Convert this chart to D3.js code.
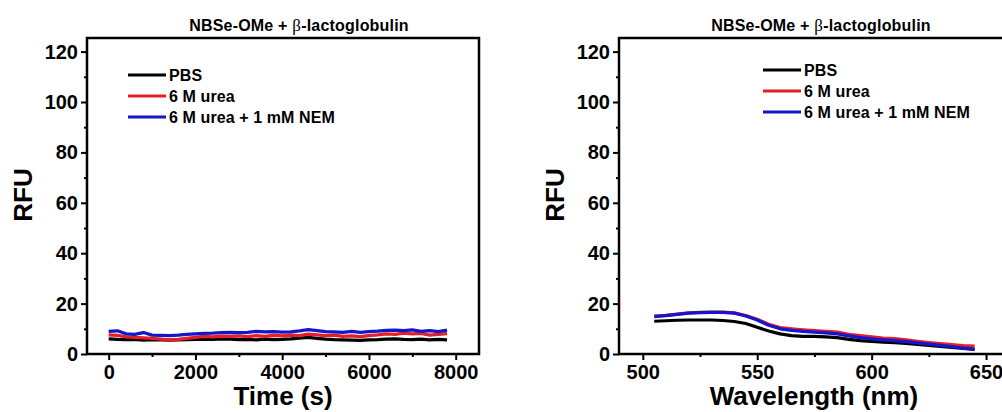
<!DOCTYPE html>
<html>
<head>
<meta charset="utf-8">
<script src="https://cdn.jsdelivr.net/npm/d3@7"></script>
<style>
  html, body { margin: 0; padding: 0; background: #fff; }
  svg { display: block; font-family: "Liberation Sans", Arial, sans-serif; font-weight: bold; }
</style>
</head>
<body>
<svg id="chart" width="1002" height="412"></svg>
<script>
// ---------- data ----------
const seriesNames = ["PBS", "6 M urea", "6 M urea + 1 mM NEM"];
const seriesColors = ["#000000", "#e41f26", "#1515cc"];
const titleMain = "NBSe-OMe + ";
const titleGreek = "β";
const titleRest = "-lactoglobulin";

// Left panel: time course
const timeS = [0,200,400,600,800,1000,1200,1400,1600,1800,2000,2200,2400,2600,2800,3000,3200,3400,3600,3800,
               4000,4200,4400,4600,4800,5000,5200,5400,5600,5800,6000,6200,6400,6600,6800,7000,7200,7400,7600,7800];
const timePBS = [6.0,5.8,5.7,5.8,5.5,5.7,5.6,5.5,5.6,5.7,5.8,5.9,5.8,6.0,5.9,5.7,5.8,5.6,5.9,5.7,
                 5.8,6.0,6.3,6.6,6.2,5.9,5.7,5.6,5.5,5.4,5.6,5.7,5.9,6.0,5.8,5.7,5.9,5.6,5.8,5.6];
const timeUrea = [7.6,7.4,6.8,6.6,6.4,6.2,5.9,5.5,5.8,6.2,6.6,7.0,6.8,7.1,7.0,7.2,6.9,7.3,7.0,7.4,
                  7.2,7.5,7.3,7.9,7.6,7.3,7.5,7.0,7.2,6.9,7.3,7.6,8.0,7.8,8.3,8.0,8.2,7.5,7.8,8.1];
const timeUreaNEM = [9.0,9.2,8.0,7.8,8.5,7.5,7.4,7.3,7.5,7.8,8.0,8.2,8.3,8.5,8.6,8.5,8.6,9.0,8.8,8.9,
                     8.7,8.8,9.2,9.7,9.3,8.9,8.8,8.6,9.0,8.6,8.9,9.1,9.4,9.5,9.3,9.6,9.0,9.3,8.9,9.5];

// Right panel: emission spectrum
const wavelength = [505,510,515,520,525,530,535,540,545,550,555,560,565,570,575,580,585,590,595,600,
                    605,610,615,620,625,630,635,640,645];
const specPBS = [13.0,13.2,13.4,13.5,13.5,13.5,13.3,12.9,12.1,10.6,9.1,8.0,7.3,7.0,7.0,6.8,6.5,5.8,5.3,5.0,
                 4.7,4.5,4.2,3.8,3.4,3.0,2.6,2.2,1.8];
const specUrea = [15.0,15.3,15.8,16.3,16.5,16.6,16.6,16.3,15.3,13.8,11.8,10.5,10.0,9.6,9.3,9.0,8.7,7.8,7.3,6.8,
                  6.3,6.1,5.6,5.0,4.5,4.1,3.7,3.3,3.1];
const specUreaNEM = [14.8,15.2,15.7,16.2,16.4,16.5,16.5,16.2,15.1,13.5,11.4,10.0,9.4,9.0,8.7,8.4,8.0,7.2,6.5,6.0,
                     5.6,5.3,4.9,4.4,3.9,3.4,2.9,2.3,1.9];

const yTicks = [0,20,40,60,80,100,120];
const timeTicks = [0,2000,4000,6000,8000];
const wlTicks = [500,550,600,650];

// ---------- drawing ----------
const svg = d3.select("#chart");
const fmt = d3.format("d");

function panel(cfg) {
  const g = svg.append("g");
  const x = d3.scaleLinear().domain(cfg.xDomain).range([cfg.left, cfg.right]);
  const y = d3.scaleLinear().domain([0, 125.4]).range([cfg.bottom, cfg.top]);

  const yAxis = d3.axisLeft(y).tickValues(yTicks).tickFormat(fmt).tickSize(6).tickSizeOuter(0).tickPadding(3);
  const gy = g.append("g").attr("transform", `translate(${cfg.left},0)`).call(yAxis);
  const yMinor = d3.axisLeft(y).tickValues(yTicks.slice(0,-1).map(v => v + 10)).tickSize(3).tickFormat("").tickSizeOuter(0);
  const gym = g.append("g").attr("transform", `translate(${cfg.left},0)`).call(yMinor);

  const xAxis = d3.axisBottom(x).tickValues(cfg.xTicks).tickFormat(fmt).tickSize(6).tickSizeOuter(0).tickPadding(5);
  const gx = g.append("g").attr("transform", `translate(0,${cfg.bottom})`).call(xAxis);
  const xMinor = d3.axisBottom(x).tickValues(cfg.xMinor).tickSize(3).tickFormat("").tickSizeOuter(0);
  const gxm = g.append("g").attr("transform", `translate(0,${cfg.bottom})`).call(xMinor);

  [gy, gym, gx, gxm].forEach(a => {
    a.select(".domain").remove();
    a.selectAll("line").attr("stroke", "#000").attr("stroke-width", 2);
    a.selectAll("text").attr("font-size", 20).attr("font-weight", "bold")
      .attr("font-family", "'Liberation Sans', Arial, sans-serif").attr("fill", "#000");
  });

  g.append("rect")
    .attr("x", cfg.left).attr("y", cfg.top)
    .attr("width", cfg.right - cfg.left).attr("height", cfg.bottom - cfg.top)
    .attr("fill", "none").attr("stroke", "#000").attr("stroke-width", 2.5);

  const line = d3.line().x(d => x(d[0])).y(d => y(d[1]));
  cfg.series.forEach((vals, i) => {
    g.append("path")
      .datum(cfg.xs.map((xv, k) => [xv, vals[k]]))
      .attr("d", line)
      .attr("fill", "none")
      .attr("stroke", seriesColors[i])
      .attr("stroke-width", 3.2)
      .attr("stroke-linejoin", "round");
  });

  const t = g.append("text")
    .attr("x", cfg.titleX).attr("y", 31)
    .attr("text-anchor", "middle").attr("font-size", 16).attr("font-weight", "bold")
    .attr("letter-spacing", 0.2);
  t.append("tspan").text(titleMain);
  t.append("tspan").attr("font-family", "'Liberation Serif', 'Times New Roman', serif").attr("font-weight", "normal").attr("font-size", 17).text(titleGreek);
  t.append("tspan").text(titleRest);

  g.append("text")
    .attr("x", cfg.xTitleX).attr("y", 405)
    .attr("text-anchor", "middle").attr("font-size", 26).attr("font-weight", "bold")
    .text(cfg.xTitle);
  g.append("text")
    .attr("transform", `translate(${cfg.yTitleX},195) rotate(-90)`)
    .attr("text-anchor", "middle").attr("font-size", 26).attr("font-weight", "bold")
    .text("RFU");

  seriesNames.forEach((name, i) => {
    const ly = cfg.legY + i * cfg.legStep;
    g.append("line")
      .attr("x1", cfg.legX).attr("x2", cfg.legX + 38)
      .attr("y1", ly).attr("y2", ly)
      .attr("stroke", seriesColors[i]).attr("stroke-width", 3);
    g.append("text")
      .attr("x", cfg.legX + 41).attr("y", ly + 5.5)
      .attr("font-size", 16).attr("font-weight", "bold").attr("letter-spacing", 0.1)
      .text(name);
  });
}

panel({
  left: 87, right: 479, top: 38, bottom: 354,
  xDomain: [-500, 8537], xTicks: timeTicks, xMinor: [1000,3000,5000,7000],
  xs: timeS, series: [timePBS, timeUrea, timeUreaNEM],
  titleX: 299, xTitle: "Time (s)", xTitleX: 283, yTitleX: 32,
  legX: 128, legY: 75, legStep: 21
});

panel({
  left: 619, right: 1011, top: 38, bottom: 354,
  xDomain: [489.6, 660.9], xTicks: wlTicks, xMinor: [525,575,625],
  xs: wavelength, series: [specPBS, specUrea, specUreaNEM],
  titleX: 821, xTitle: "Wavelength (nm)", xTitleX: 814, yTitleX: 564,
  legX: 763, legY: 70, legStep: 21
});
</script>
</body>
</html>
